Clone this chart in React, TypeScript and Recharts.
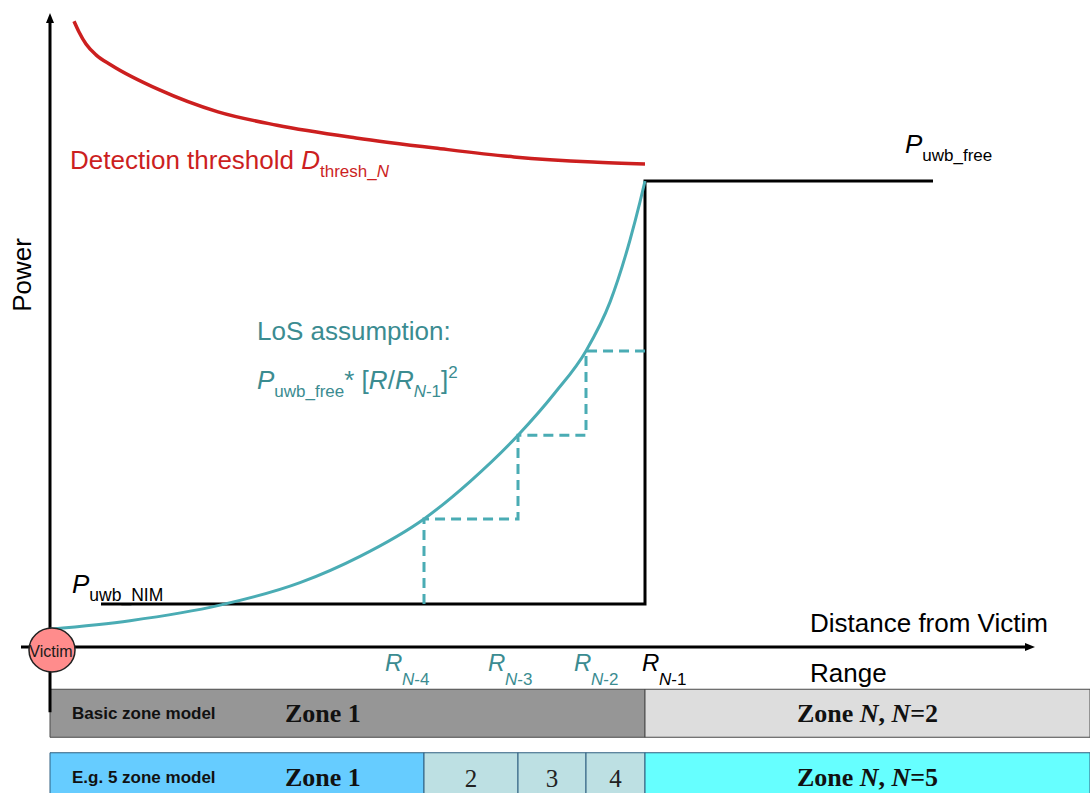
import React from 'react';
import {
  ComposedChart,
  Line,
  XAxis,
  YAxis,
  ReferenceLine,
  ReferenceDot,
  BarChart,
  Bar,
  Cell,
  LabelList,
} from 'recharts';

// ---------- data (distance: 0..100 from Victim, power: arbitrary 0..100) ----------
const rLabels = ['N-4', 'N-3', 'N-2', 'N-1'];
const rValues = [37.4, 46.8, 53.6, 59.5];

const thresholdDist = [2.4, 2.9, 3.6, 4.6, 6.1, 10.9, 16.8, 22.7, 30.6, 38.5, 46.4, 54.3, 59.5];
const thresholdPower = [98.7, 97.0, 95.1, 93.4, 91.8, 87.9, 84.4, 82.3, 80.3, 78.7, 77.3, 76.5, 76.2];

const losDist = [0, 8, 17, 25, 31, 37.4, 42, 46.8, 50.5, 53.6, 56, 58, 59, 59.5];
const losPower = [2.8, 4.15, 6.6, 10.15, 14.3, 20.2, 26.1, 33.4, 40.1, 46.7, 54.4, 64.2, 70.2, 73.5];

const pNim = 6.8;
const pFree = 73.5;
const nimStartDist = 5.1;
const freeEndDist = 88.3;
const stepPowers = [20.2, 33.4, 46.7]; // LoS power at R_N-4, R_N-3, R_N-2

const axisStartDist = -2.9;
const axisEndDist = 98.5;
const axisBottomPower = -10.3;
const axisTopPower = 100;

const zoneRowNames = ['Basic zone model', 'E.g. 5 zone model'];
const basicZoneEdges = [0, 59.5, 59.5, 59.5, 59.5, 104];
const fiveZoneEdges = [0, 37.4, 46.8, 53.6, 59.5, 104];
const basicZoneLabels = ['Zone 1', '', '', '', 'N=2'];
const fiveZoneLabels = ['Zone 1', '2', '3', '4', 'N=5'];

// ---------- derived tables ----------
const thresholdData = thresholdDist.map((x, i) => ({ x, y: thresholdPower[i] }));
const losData = losDist.map((x, i) => ({ x, y: losPower[i] }));
const powerStepData = [
  { x: nimStartDist, y: pNim },
  { x: rValues[3], y: pNim },
  { x: rValues[3], y: pFree },
  { x: freeEndDist, y: pFree },
];
const zoneStepData: { x: number; y: number }[] = [{ x: rValues[0], y: pNim }];
stepPowers.forEach((p, i) => {
  zoneStepData.push({ x: rValues[i], y: p });
  zoneStepData.push({ x: rValues[i + 1], y: p });
});

const segKeys = ['s0', 's1', 's2', 's3', 's4'];
const zoneEdgeRows = [basicZoneEdges, fiveZoneEdges];
const zoneLabelRows = [basicZoneLabels, fiveZoneLabels];
const zoneData = zoneEdgeRows.map((edges, r) => {
  const o: any = { row: zoneRowNames[r] };
  segKeys.forEach((k, i) => {
    o[k] = +(edges[i + 1] - edges[i]).toFixed(2);
    o['l' + i] = zoneLabelRows[r][i];
  });
  return o;
});

// ---------- styles ----------
const SANS = '"Liberation Sans", Arial, sans-serif';
const SERIF = '"Liberation Serif", "Times New Roman", serif';
const RED = '#cc1f1f';
const TEAL_LINE = '#4aacb4';
const TEAL_TEXT = '#3b8c91';
const basicColors = ['#969696', '#969696', '#969696', '#969696', '#dddddd'];
const fiveColors = ['#66ccff', '#bde0e3', '#bde0e3', '#bde0e3', '#66ffff'];
const rowStroke = ['#4a4a4a', '#2f5f80'];
const rLabelDx = [-39, -30, -12, -3];
const rLabelColor = [TEAL_TEXT, TEAL_TEXT, TEAL_TEXT, '#000'];

const ArrowLine = (props: any) => {
  const { x1, y1, x2, y2 } = props;
  const ang = Math.atan2(y2 - y1, x2 - x1);
  const L = 10;
  const W = 4;
  const bx = x2 - L * Math.cos(ang);
  const by = y2 - L * Math.sin(ang);
  const px = -Math.sin(ang) * W;
  const py = Math.cos(ang) * W;
  return (
    <g>
      <line x1={x1} y1={y1} x2={bx} y2={by} stroke="#000" strokeWidth={3} />
      <polygon points={`${x2},${y2} ${bx + px},${by + py} ${bx - px},${by - py}`} fill="#000" />
    </g>
  );
};

const VictimShape = (p: any) => (
  <g>
    <ellipse cx={p.cx + 2} cy={p.cy + 3} rx={23} ry={22} fill="#ff8c8c" stroke="#222" strokeWidth={1.5} />
    <text x={p.cx + 1} y={p.cy + 10} textAnchor="middle" fontSize={16} fill="#1a1a1a" fontFamily={SANS}>
      Victim
    </text>
  </g>
);

const RTick = (props: any) => {
  const { x, y, index } = props;
  const i = index ?? 0;
  return (
    <g>
      <text
        x={x + rLabelDx[i]}
        y={y + 24}
        fill={rLabelColor[i]}
        fontFamily={SANS}
        fontSize={24}
        fontStyle="italic"
      >
        R
      </text>
      <text
        x={x + rLabelDx[i] + 17}
        y={y + 38}
        fill={rLabelColor[i]}
        fontFamily={SANS}
        fontSize={17}
      >
        <tspan fontStyle="italic">N</tspan>
        <tspan>{rLabels[i].slice(1)}</tspan>
      </text>
    </g>
  );
};

const rowNameLabel = (p: any) => {
  const { x, y, height, value } = p;
  if (!value) return null;
  return (
    <text x={x + 22} y={y + height / 2 + 6} fontFamily={SANS} fontWeight="bold" fontSize={17} fill="#111">
      {value}
    </text>
  );
};

const makeZoneLabel = (seg: number) => (p: any) => {
  const { x, y, width, height, value } = p;
  if (!value || !width || width < 1) return null;
  const cy = y + height / 2;
  if (seg === 0) {
    return (
      <text x={x + 235} y={cy + 9} fontFamily={SERIF} fontWeight="bold" fontSize={26} fill="#111">
        {value}
      </text>
    );
  }
  if (seg === 4) {
    const parts = String(value).split('=');
    return (
      <text x={x + width / 2} y={cy + 9} textAnchor="middle" fontFamily={SERIF} fontWeight="bold" fontSize={26} fill="#111">
        {'Zone '}
        <tspan fontStyle="italic">N</tspan>
        {', '}
        <tspan fontStyle="italic">N</tspan>
        {'=' + parts[1]}
      </text>
    );
  }
  return (
    <text x={x + width / 2} y={cy + 10} textAnchor="middle" fontFamily={SERIF} fontSize={25} fill="#222">
      {value}
    </text>
  );
};

export default function App() {
  return (
    <div style={{ position: 'absolute', left: 0, top: 0, width: 1090, height: 793, overflow: 'hidden', background: '#fff' }}>
      {/* zone models */}
      <div style={{ position: 'absolute', left: 0, top: 0 }}>
        <BarChart
          width={1090}
          height={808.5}
          data={zoneData}
          layout="vertical"
          margin={{ top: 681.5, left: 50, right: 0, bottom: 0 }}
          barCategoryGap={7.75}
        >
          <XAxis type="number" domain={[0, 104]} hide />
          <YAxis type="category" dataKey="row" hide />
          {segKeys.map((k, s) => (
            <Bar key={k} dataKey={k} stackId="z" isAnimationActive={false} strokeWidth={1}>
              {zoneData.map((_, r) => (
                <Cell key={r} fill={r === 0 ? basicColors[s] : fiveColors[s]} stroke={rowStroke[r]} />
              ))}
              {s === 0 ? <LabelList dataKey="row" content={rowNameLabel} /> : null}
              <LabelList dataKey={'l' + s} content={makeZoneLabel(s)} />
            </Bar>
          ))}
        </BarChart>
      </div>

      {/* power vs distance */}
      <div style={{ position: 'absolute', left: 0, top: 0 }}>
        <ComposedChart width={1090} height={793} margin={{ top: 13, left: 50, right: 40, bottom: 116 }}>
          <XAxis
            type="number"
            dataKey="x"
            domain={[0, 100]}
            ticks={rValues}
            interval={0}
            axisLine={false}
            tickLine={false}
            tickSize={0}
            tickMargin={0}
            height={30}
            tick={(p: any) => <RTick {...p} />}
          />
          <YAxis type="number" dataKey="y" domain={[0, 100]} hide />
          <ReferenceLine
            segment={[{ x: 0, y: axisBottomPower }, { x: 0, y: axisTopPower }]}
            ifOverflow="visible"
            shape={ArrowLine}
          />
          <ReferenceLine
            segment={[{ x: axisStartDist, y: 0 }, { x: axisEndDist, y: 0 }]}
            ifOverflow="visible"
            shape={ArrowLine}
          />
          <Line
            data={thresholdData}
            dataKey="y"
            type="monotone"
            stroke={RED}
            strokeWidth={3.5}
            dot={false}
            isAnimationActive={false}
          />
          <Line
            data={powerStepData}
            dataKey="y"
            type="linear"
            stroke="#000"
            strokeWidth={3}
            strokeLinejoin="miter"
            dot={false}
            isAnimationActive={false}
          />
          <Line
            data={zoneStepData}
            dataKey="y"
            type="linear"
            stroke={TEAL_LINE}
            strokeWidth={3}
            strokeDasharray="10 6"
            strokeLinejoin="miter"
            dot={false}
            isAnimationActive={false}
          />
          <Line
            data={losData}
            dataKey="y"
            type="monotone"
            stroke={TEAL_LINE}
            strokeWidth={3}
            dot={false}
            isAnimationActive={false}
          />
          <ReferenceDot x={0} y={0} ifOverflow="visible" shape={VictimShape} />
        </ComposedChart>
      </div>

      {/* annotations */}
      <svg width={1090} height={793} style={{ position: 'absolute', left: 0, top: 0, pointerEvents: 'none' }}>
        <text x={70} y={169} fill={RED} fontSize={26} fontFamily={SANS}>
          {'Detection threshold '}
          <tspan fontStyle="italic">D</tspan>
          <tspan fontSize={17} dy={8}>thresh_</tspan>
          <tspan fontSize={17} fontStyle="italic">N</tspan>
        </text>
        <text x={905} y={153} fill="#000" fontSize={26} fontFamily={SANS}>
          <tspan fontStyle="italic">P</tspan>
          <tspan fontSize={17} dy={8}>uwb_free</tspan>
        </text>
        <text transform="translate(31,275) rotate(-90)" textAnchor="middle" fill="#000" fontSize={26} fontFamily={SANS}>
          Power
        </text>
        <text x={257} y={340} fill={TEAL_TEXT} fontSize={26} fontFamily={SANS}>
          LoS assumption:
        </text>
        <text x={257} y={389} fill={TEAL_TEXT} fontSize={26} fontFamily={SANS}>
          <tspan fontStyle="italic">P</tspan>
          <tspan fontSize={17} dy={8}>uwb_free</tspan>
          <tspan dy={-8}>{'* ['}</tspan>
          <tspan fontStyle="italic">R</tspan>
          <tspan>/</tspan>
          <tspan fontStyle="italic">R</tspan>
          <tspan fontSize={17} dy={8} fontStyle="italic">N</tspan>
          <tspan fontSize={17}>-1</tspan>
          <tspan dy={-8}>]</tspan>
          <tspan fontSize={17} dy={-11}>2</tspan>
        </text>
        <text x={72} y={593} fill="#000" fontSize={26} fontFamily={SANS}>
          <tspan fontStyle="italic">P</tspan>
          <tspan fontSize={17.5} dy={8}>uwb_NIM</tspan>
        </text>
        <text x={810} y={632} fill="#000" fontSize={26} fontFamily={SANS}>
          Distance from Victim
        </text>
        <text x={810} y={682} fill="#000" fontSize={26} fontFamily={SANS}>
          Range
        </text>
      </svg>
    </div>
  );
}
